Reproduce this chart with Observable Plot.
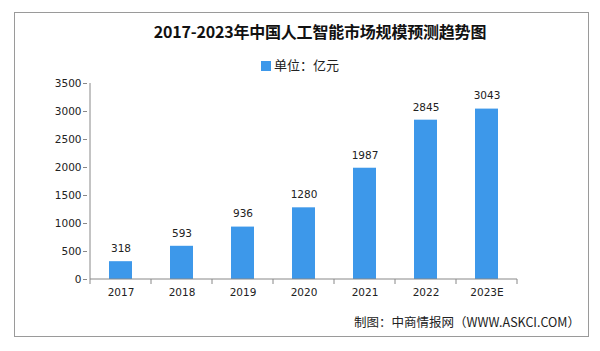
<!DOCTYPE html>
<html><head><meta charset="utf-8">
<script src="https://cdn.jsdelivr.net/npm/d3@7"></script>
<script src="https://cdn.jsdelivr.net/npm/@observablehq/plot@0.6"></script>
<style>
html,body{margin:0;padding:0;background:#fff;}
#wrap{position:relative;width:600px;height:351px;overflow:hidden;}
#frame{position:absolute;left:14px;top:12px;width:575px;height:325px;border:1px solid #9a9a9a;box-sizing:border-box;}
#title{position:absolute;left:20px;width:600px;top:19px;text-align:center;font-family:"Noto Sans CJK SC",sans-serif;font-weight:bold;font-size:16px;color:#111;letter-spacing:-0.2px;}
#legend{position:absolute;left:0;width:600px;top:55px;text-align:center;font-family:"Noto Sans CJK SC",sans-serif;font-size:13px;color:#222;}
#legend span.sw{display:inline-block;width:10px;height:10px;background:#3d98ea;margin-right:3px;vertical-align:-1px;}
#caption{position:absolute;right:20px;top:312px;font-family:"Noto Sans CJK SC",sans-serif;font-size:12.5px;color:#222;}
#chart{position:absolute;left:0;top:0;}
</style></head>
<body><div id="wrap"><div id="frame"></div>
<div id="chart"></div>
<div id="title">2017-2023年中国人工智能市场规模预测趋势图</div>
<div id="legend"><span class="sw"></span>单位：亿元</div>
<div id="caption">制图：中商情报网（WWW.ASKCI.COM）</div>
</div>
<script>
const years = ["2017","2018","2019","2020","2021","2022","2023E"];
const values = [318, 593, 936, 1280, 1987, 2845, 3043];
const yTicks = [0,500,1000,1500,2000,2500,3000,3500];
const data = years.map((y,i)=>({year:y, value:values[i]}));

const axisLines = (index, scales) => {
  const g = d3.create("svg:g");
  const x = scales.x, y0 = scales.y(0), yTop = scales.y(3500);
  const bw = x.bandwidth();
  const xs = years.map(c => x(c)).concat([x(years[years.length-1]) + bw]);
  g.selectAll("line.t").data(xs).join("line")
    .attr("x1", d=>d).attr("x2", d=>d)
    .attr("y1", y0).attr("y2", y0+5)
    .attr("stroke", "#888");
  g.append("line").attr("x1", xs[0]).attr("x2", xs[xs.length-1])
    .attr("y1", y0).attr("y2", y0).attr("stroke", "#888");
  g.append("line").attr("x1", xs[0]).attr("x2", xs[0])
    .attr("y1", yTop).attr("y2", y0).attr("stroke", "#888");
  return g.node();
};

const plot = Plot.plot({
  width: 600, height: 351,
  marginLeft: 87, marginRight: 80, marginTop: 83, marginBottom: 72,
  style: {fontFamily: "DejaVu Sans", fontSize: "10.5px", color: "#222", background: "transparent"},
  x: {domain: years, padding: 0, label: null},
  y: {domain: [0, 3500], label: null},
  marks: [
    Plot.barY(data, {x: "year", y: "value", fill: "#3d98ea", insetLeft: 19, insetRight: 19}),
    Plot.text(data, {x: "year", y: "value", text: d => String(d.value), dy: -13, fill: "#222", fontSize: 10.5}),
    Plot.axisY({ticks: yTicks, tickSize: 4, tickPadding: 2, stroke: "#888", fill: "#222", tickFormat: d => String(d)}),
    Plot.axisX({tickSize: 0, tickPadding: 9, fill: "#222"}),
    axisLines
  ]
});
document.getElementById("chart").appendChild(plot);
</script>
</body></html>
